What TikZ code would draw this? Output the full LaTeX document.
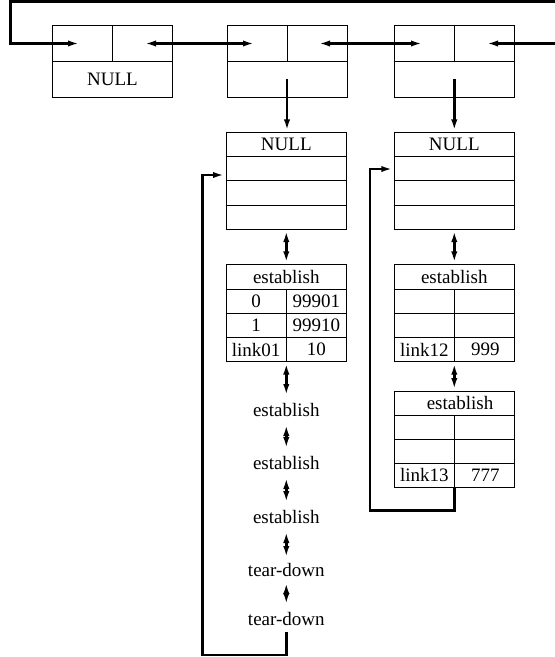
\documentclass[tikz,border=0pt]{standalone}
\usepackage{fontspec}
\setmainfont{Liberation Serif}
\usetikzlibrary{arrows.meta,calc}
\begin{document}
\begin{tikzpicture}[x=1pt,y=-1pt,
  box/.style={draw,line width=1pt,inner sep=0pt,outer sep=0pt},
  lbl/.style={inner sep=0pt,font=\fontsize{19}{22}\selectfont},
  txt/.style={inner sep=0pt,outer sep=0pt,minimum height=26pt,font=\fontsize{19}{22}\selectfont},
  thin/.style={line width=1pt},
  conn/.style={line width=2.6pt},
  tip/.style={-{Latex[length=13pt,width=6pt]}},
  dtip/.style={{Latex[length=13pt,width=6pt]}-{Latex[length=13pt,width=6pt]}}
]
\useasboundingbox (0,0) rectangle (555,657);

% ---- top row of boxes ----
\node[box,minimum width=120pt,minimum height=72pt] (h1) at (112.5,61) {};
\node[box,minimum width=120pt,minimum height=72pt] (h2) at (287,61) {};
\node[box,minimum width=120pt,minimum height=72pt] (h3) at (454.5,61) {};
\foreach \b in {h1,h2,h3}{
  \draw[thin] (\b.west) -- (\b.east);
  \draw[thin] (\b.north) -- (\b.center);
}
\node[lbl] (null0) at (112.5,79) {NULL};

% ---- stacks ----
\node[box,minimum width=120.5pt,minimum height=96.7pt] (sl) at (286.3,180.8) {};
\node[box,minimum width=120pt,minimum height=96.7pt] (sr) at (454.3,180.8) {};
\foreach \b in {sl,sr}{
  \draw[thin] ($(\b.west)+(0,-24.2)$) -- ($(\b.east)+(0,-24.2)$);
  \draw[thin] (\b.west) -- (\b.east);
  \draw[thin] ($(\b.west)+(0,24.2)$) -- ($(\b.east)+(0,24.2)$);
}
\node[lbl] (nullL) at (286.3,144.6) {NULL};
\node[lbl] (nullR) at (454.3,144.6) {NULL};

% ---- left establish table ----
\node[box,minimum width=120.5pt,minimum height=97.2pt] (el) at (286.3,312.9) {};
\draw[thin] (226,289) -- (346.5,289);
\draw[thin] (226,313.3) -- (346.5,313.3);
\draw[thin] (226,337.7) -- (346.5,337.7);
\draw[thin] (286.3,289) -- (el.south);
\node[lbl] (elh) at (286.3,276.6) {establish};
\node[lbl] (ea1) at (256.2,301.2) {0};
\node[lbl] (eb1) at (316.4,301.2) {99901};
\node[lbl] (ea2) at (256.2,325.5) {1};
\node[lbl] (eb2) at (316.4,325.5) {99910};
\node[lbl] (ea3) at (256.2,349.6) {link01};
\node[lbl] (eb3) at (316.4,349.6) {10};

% ---- right establish tables ----
\node[box,minimum width=120pt,minimum height=97.4pt] (er1) at (454.3,313) {};
\draw[thin] (394.3,289) -- (514.3,289);
\draw[thin] (394.3,313.3) -- (514.3,313.3);
\draw[thin] (394.3,337.3) -- (514.3,337.3);
\draw[thin] (454.3,289) -- (er1.south);
\node[lbl] (er1h) at (454.3,276.6) {establish};
\node[lbl] (er1a) at (424.3,349.5) {link12};
\node[lbl] (er1b) at (485.3,349.5) {999};

\node[box,minimum width=120pt,minimum height=96.3pt] (er2) at (454.3,439.15) {};
\draw[thin] (394.3,415.7) -- (514.3,415.7);
\draw[thin] (394.3,439.3) -- (514.3,439.3);
\draw[thin] (394.3,463.3) -- (514.3,463.3);
\draw[thin] (454.3,415.7) -- (er2.south);
\node[lbl] (er2h) at (460,403.3) {establish};
\node[lbl] (er2a) at (424.3,475.3) {link13};
\node[lbl] (er2b) at (485.3,475.3) {777};

% ---- text chain ----
\node[txt] (t1) at (286.3,410) {establish};
\node[txt] (t2) at (286.3,463) {establish};
\node[txt] (t3) at (286.3,517) {establish};
\node[txt,minimum height=22pt] (t4) at (286.3,570) {tear-down};
\node[txt] (t5) at (286.3,619) {tear-down};

% ---- coordinates for connector ends ----
\coordinate (topR) at (555,1.3);
\coordinate (topL) at (10.5,1.3);
\coordinate (in1) at (81,43.5);
\coordinate (c1r) at (143,43.5);
\coordinate (c2l) at (256,43.5);
\coordinate (c2r) at (317,43.5);
\coordinate (c3l) at (424,43.5);
\coordinate (c3r) at (485,43.5);
\coordinate (edgeR) at (555,43.5);
\coordinate (d2) at (287,79);
\coordinate (d3) at (454.3,79);
\coordinate (lpA) at (202.7,655);
\coordinate (lpB) at (226,175);
\coordinate (rpA) at (370,510.7);
\coordinate (rpB) at (394.3,169);

% ---- connectors ----
\draw[conn,tip] (topR) -- (topL) |- (in1);
\draw[conn,dtip] (c1r) -- (c2l);
\draw[conn,dtip] (c2r) -- (c3l);
\draw[conn,tip] (edgeR) -- (c3r);
\draw[conn,tip] (d2) -- (d2 |- sl.north);
\draw[conn,tip] (d3) -- (sr.north);
\draw[conn,dtip] (sl.south) -- (el.north);
\draw[conn,dtip] (sr.south) -- (er1.north);
\draw[conn,dtip] (er1.south) -- (er2.north);
\draw[conn,dtip] (el.south) -- (t1.north);
\draw[conn,dtip] (t1.south) -- (t2.north);
\draw[conn,dtip] (t2.south) -- (t3.north);
\draw[conn,dtip] (t3.south) -- (t4.north);
\draw[conn,dtip] (t4.south) -- (t5.north);
\draw[conn,tip] (t5.south) |- (lpA) |- (lpB);
\draw[conn,tip] (er2.south) |- (rpA) |- (rpB);
\end{tikzpicture}
\end{document}
